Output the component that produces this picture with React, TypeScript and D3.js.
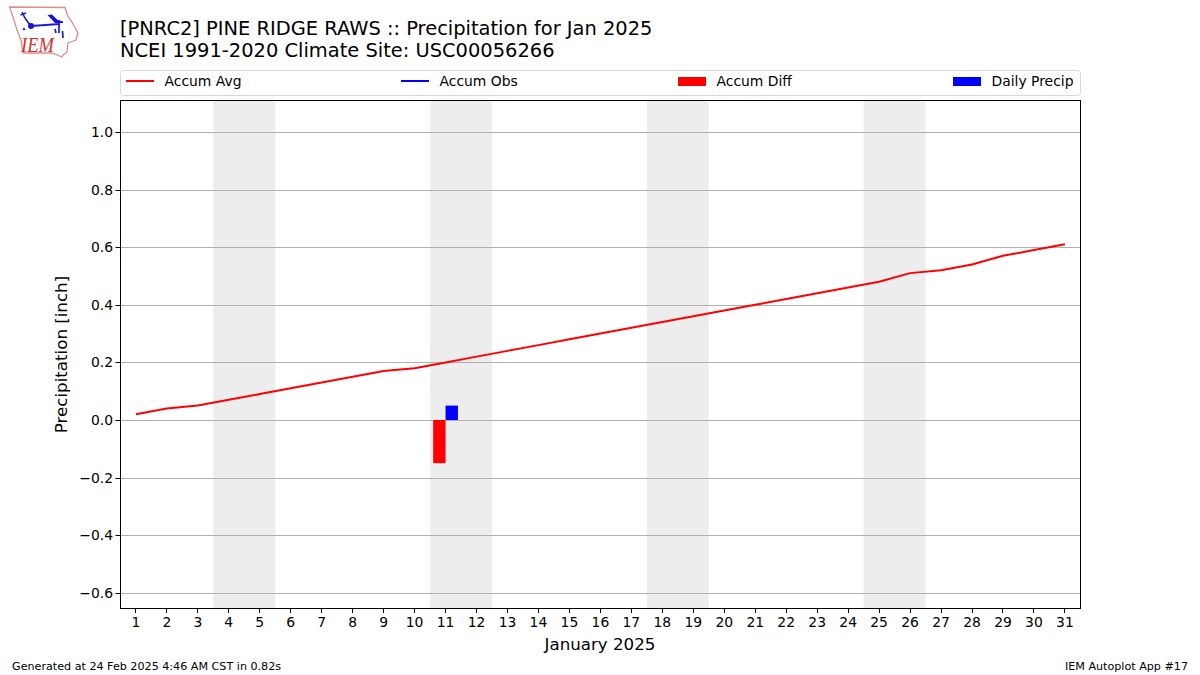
import React from "react";
import * as d3 from "d3";

const days = d3.range(1, 32);
const accumAvg = [0.02,0.04,0.05,0.07,0.09,0.11,0.13,0.15,0.17,0.18,0.20,0.22,0.24,0.26,0.28,0.30,0.32,0.34,0.36,0.38,0.40,0.42,0.44,0.46,0.48,0.51,0.52,0.54,0.57,0.59,0.61];
const diffBars = [{ day: 11, value: -0.15 }];
const precipBars = [{ day: 11, value: 0.05 }];
const weekends = [[3.5,5.5],[10.5,12.5],[17.5,19.5],[24.5,26.5]];
const yTicks = [-0.6,-0.4,-0.2,0,0.2,0.4,0.6,0.8,1.0];
const legendItems = [
  { label: "Accum Avg", color: "#ff0000", kind: "line", x: 126 },
  { label: "Accum Obs", color: "#0000ff", kind: "line", x: 401 },
  { label: "Accum Diff", color: "#ff0000", kind: "patch", x: 678 },
  { label: "Daily Precip", color: "#0000ff", kind: "patch", x: 953 },
];

const L = 120, R = 1080, T = 100, B = 608;
const font = "'DejaVu Sans', sans-serif";

function Logo() {
  return (
    <g>
      <path d="M9.5 7 L65 7.5 L68 16.5 L72 22 L78 33 L76 40 L68 43 L67 52 L63 55 L62 57 L52 53 L23 53 L21 40 L17 30 L13 17 Z" fill="#fff" stroke="#e58a8a" strokeWidth={1.3} />
      <path d="M22 12 L25 18 L30 25 M20.5 15 L26 13" fill="none" stroke="#1a1ad6" strokeWidth={1.5} />
      <circle cx={31} cy={26} r={3} fill="#1414d0" />
      <path d="M31 26 L60 24" fill="none" stroke="#1a1ad6" strokeWidth={2} />
      <path d="M47.5 15 L52 14.5 L57 19.5 L63 21.5 L63 23 L55 23 Z" fill="#1414d0" />
      <path d="M59 22 L59 33 M55 29 L56 33 M62.5 31 L63 38" fill="none" stroke="#1a1ad6" strokeWidth={1.7} />
      <path d="M22.5 30 L24 27 L25.5 30 Z" fill="#1a1ad6" />
      <text x={21} y={52} textLength={33} lengthAdjust="spacingAndGlyphs" fontFamily="'Liberation Serif', serif" fontStyle="italic" fontSize={21} fill="#d03030">IEM</text>
    </g>
  );
}

export default function App() {
  const x = d3.scaleLinear().domain([0.5, 31.5]).range([L + 0.4, R + 0.4]);
  const y = d3.scaleLinear().domain([-0.6528, 1.1111]).range([B, T]);
  const line = d3.line<number>().x((_, i) => x(days[i])).y(d => y(d));
  const barW = x(0.4) - x(0);

  return (
    <svg width={1200} height={675} style={{ position: "absolute", left: 0, top: 0, background: "#fff" }} fontFamily={font}>
      <Logo />
      <text x={120} y={35} fontSize={19.45} fill="#000">[PNRC2] PINE RIDGE RAWS :: Precipitation for Jan 2025</text>
      <text x={120} y={57} fontSize={19.45} fill="#000">NCEI 1991-2020 Climate Site: USC00056266</text>

      <rect x={120.5} y={70.5} width={960} height={25} rx={3} fill="#fff" stroke="#d8d8d8" />
      {legendItems.map(d => (
        <g key={d.label}>
          {d.kind === "line"
            ? <line x1={d.x} x2={d.x + 28} y1={81} y2={81} stroke={d.color} strokeWidth={2} />
            : <rect x={d.x} y={77} width={28} height={9} fill={d.color} />}
          <text x={d.x + 38.5} y={86} fontSize={13.9} fill="#000">{d.label}</text>
        </g>
      ))}

      {weekends.map(w => (
        <rect key={w[0]} x={x(w[0])} y={T} width={x(w[1]) - x(w[0])} height={B - T} fill="#ededed" />
      ))}
      {yTicks.map(t => (
        <line key={t} x1={L} x2={R} y1={Math.round(y(t)) + 0.5} y2={Math.round(y(t)) + 0.5} stroke="#b0b0b0" strokeWidth={1} />
      ))}
      {diffBars.map(d => (
        <rect key={d.day} x={x(d.day) - barW} y={y(0)} width={barW} height={y(d.value) - y(0)} fill="#ff0000" />
      ))}
      {precipBars.map(d => (
        <rect key={d.day} x={x(d.day)} y={y(d.value)} width={barW} height={y(0) - y(d.value)} fill="#0000ff" />
      ))}
      <path d={line(accumAvg) ?? ""} fill="none" stroke="#ff0000" strokeWidth={2} />

      <rect x={120.5} y={100.5} width={960} height={508} fill="none" stroke="#000" strokeWidth={1} />

      {days.map(d => (
        <g key={d}>
          <line x1={Math.floor(x(d)) + 0.5} x2={Math.floor(x(d)) + 0.5} y1={608} y2={613} stroke="#000" />
          <text x={x(d)} y={627} textAnchor="middle" fontSize={13.9} fill="#000">{d}</text>
        </g>
      ))}
      {yTicks.map(t => (
        <g key={t}>
          <line x1={115.5} x2={120} y1={Math.round(y(t)) + 0.5} y2={Math.round(y(t)) + 0.5} stroke="#000" />
          <text x={113} y={y(t) + 5} textAnchor="end" fontSize={13.9} fill="#000">{(t < 0 ? "\u2212" : "") + Math.abs(t).toFixed(1)}</text>
        </g>
      ))}
      <text x={600} y={649.5} textAnchor="middle" fontSize={16.67} fill="#000">January 2025</text>
      <text transform="translate(67,354.5) rotate(-90)" textAnchor="middle" fontSize={16.67} fill="#000">Precipitation [inch]</text>
      <text x={12} y={670} fontSize={11.15} fill="#000">Generated at 24 Feb 2025 4:46 AM CST in 0.82s</text>
      <text x={1188} y={670} textAnchor="end" fontSize={11.15} fill="#000">IEM Autoplot App #17</text>
    </svg>
  );
}
